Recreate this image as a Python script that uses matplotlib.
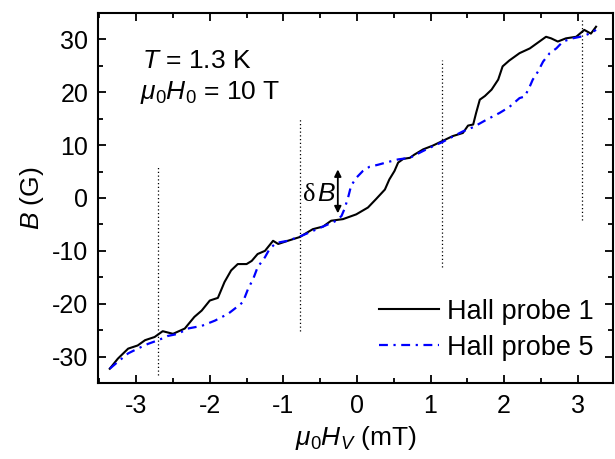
import numpy as np
import matplotlib
matplotlib.use('Agg')
import matplotlib.pyplot as plt
from matplotlib.ticker import MultipleLocator

plt.rcParams['font.family'] = ['Liberation Sans', 'DejaVu Sans']
plt.rcParams['mathtext.fontset'] = 'custom'
plt.rcParams['mathtext.rm'] = 'Liberation Sans'
plt.rcParams['mathtext.it'] = 'Liberation Sans:italic'
plt.rcParams['axes.unicode_minus'] = False

# Hall probe 1 (black, solid)
x_p1 = [-3.36, -3.25, -3.11, -2.98, -2.88, -2.75, -2.64, -2.50, -2.34, -2.21,
        -2.11, -2.00, -1.89, -1.80, -1.71, -1.62, -1.50, -1.43, -1.35, -1.25,
        -1.14, -1.07, -0.94, -0.78, -0.60, -0.46, -0.35, -0.19, -0.01, 0.15,
        0.26, 0.38, 0.44, 0.51, 0.56, 0.63, 0.72, 0.78, 0.90, 1.03,
        1.15, 1.30, 1.44, 1.51, 1.58, 1.62, 1.67, 1.74, 1.83, 1.92,
        1.98, 2.07, 2.21, 2.35, 2.48, 2.57, 2.64, 2.73, 2.84, 2.98,
        3.09, 3.18, 3.25]
y_p1 = [-32.3, -30.4, -28.5, -27.9, -26.9, -26.3, -25.2, -25.7, -24.7, -22.5,
        -21.3, -19.4, -18.9, -15.9, -13.7, -12.5, -12.5, -11.9, -10.6, -10.0,
        -8.1, -8.7, -8.1, -7.4, -5.9, -5.4, -4.3, -4.0, -3.1, -1.8,
        -0.2, 1.6, 3.5, 5.1, 6.7, 7.4, 7.6, 8.2, 9.2, 9.9,
        10.7, 11.7, 12.3, 13.7, 13.9, 16.1, 18.6, 19.3, 20.5, 22.4,
        24.9, 26.0, 27.4, 28.3, 29.6, 30.5, 30.2, 29.6, 30.2, 30.5,
        31.8, 31.1, 32.4]

# Hall probe 5 (blue, dash-dot)
x_p5 = [-3.36, -3.25, -3.11, -2.98, -2.84, -2.70, -2.57, -2.43, -2.30, -2.11,
        -1.93, -1.75, -1.62, -1.55, -1.48, -1.41, -1.35, -1.25, -1.19, -1.10,
        -0.94, -0.76, -0.46, -0.28, -0.21, -0.17, -0.12, -0.08, -0.01, 0.08,
        0.17, 0.29, 0.42, 0.56, 0.72, 0.90, 1.08, 1.15, 1.30, 1.44,
        1.58, 1.76, 1.94, 2.07, 2.21, 2.28, 2.34, 2.39, 2.46, 2.53,
        2.62, 2.71, 2.80, 2.93, 3.07, 3.16, 3.25]
y_p5 = [-32.3, -31.0, -29.4, -28.5, -27.6, -26.9, -26.1, -25.7, -24.7, -24.2,
        -23.2, -21.9, -20.5, -19.7, -17.2, -15.3, -13.1, -11.2, -9.7, -8.5,
        -8.1, -7.2, -5.4, -4.3, -3.4, -2.1, 0.1, 2.3, 3.8, 5.1,
        5.9, 6.3, 6.8, 7.3, 7.6, 8.9, 10.1, 10.5, 11.6, 12.6,
        13.4, 14.8, 16.1, 17.2, 18.9, 19.2, 20.8, 22.4, 23.9, 25.8,
        27.4, 28.3, 29.6, 30.2, 30.6, 31.1, 31.8]

# vertical dotted markers
vx = [-2.70, -0.77, 1.15, 3.06]
vy_lo = [-33.4, -25.2, -13.0, -4.2]
vy_hi = [6.0, 15.2, 26.1, 34.0]

fig = plt.figure(figsize=(6.15, 4.59), dpi=100)
ax = fig.add_axes([0.1593, 0.1656, 0.8374, 0.8061])

for xv, lo, hi in zip(vx, vy_lo, vy_hi):
    ax.plot([xv, xv], [lo, hi], color='black', linestyle=(0, (1, 2)), linewidth=0.9)

ax.plot(x_p1, y_p1, color='black', linewidth=1.5, label='Hall probe 1')
ax.plot(x_p5, y_p5, color='#0000ff', linewidth=1.6,
        linestyle=(0, (4, 2.5, 1, 2.5)), label='Hall probe 5')

# delta B arrow
ax.annotate('', xy=(-0.26, -2.9), xytext=(-0.26, 5.4),
            arrowprops=dict(arrowstyle='<|-|>', color='black', lw=1.3,
                            mutation_scale=10, shrinkA=0, shrinkB=0))
ax.text(-0.56, -0.6, 'δ', family='Liberation Serif', fontsize=19, ha='right', va='baseline')
ax.text(-0.54, -0.6, 'B', style='italic', fontsize=19, ha='left', va='baseline')

ax.text(0.085, 0.850, r'$T$ = 1.3 K', transform=ax.transAxes, fontsize=19)
ax.text(0.081, 0.768, r'$\mu_0H_0$ = 10 T', transform=ax.transAxes, fontsize=19)

ax.set_xlim(-3.52, 3.48)
ax.set_ylim(-35, 35)
ax.xaxis.set_major_locator(MultipleLocator(1))
ax.xaxis.set_minor_locator(MultipleLocator(0.5))
ax.yaxis.set_major_locator(MultipleLocator(10))
ax.yaxis.set_minor_locator(MultipleLocator(5))
ax.tick_params(which='both', direction='in', top=True, right=True, width=1.3, labelsize=18)
ax.tick_params(which='major', length=6)
ax.tick_params(which='minor', length=3.5)
ax.tick_params(axis='x', pad=8)
ax.tick_params(axis='y', pad=7)
for s in ax.spines.values():
    s.set_linewidth(1.5)

ax.set_xlabel(r'$\mu_0H_V$ (mT)', fontsize=19, labelpad=4)
ax.set_ylabel(r'$B$ (G)', fontsize=19, labelpad=4)

ax.legend(loc='lower right', bbox_to_anchor=(0.963, 0.06), frameon=False, fontsize=19.5,
          handlelength=2.2, handletextpad=0.3, labelspacing=0.37,
          borderpad=0, borderaxespad=0)

fig.savefig('out.png', dpi=100)
